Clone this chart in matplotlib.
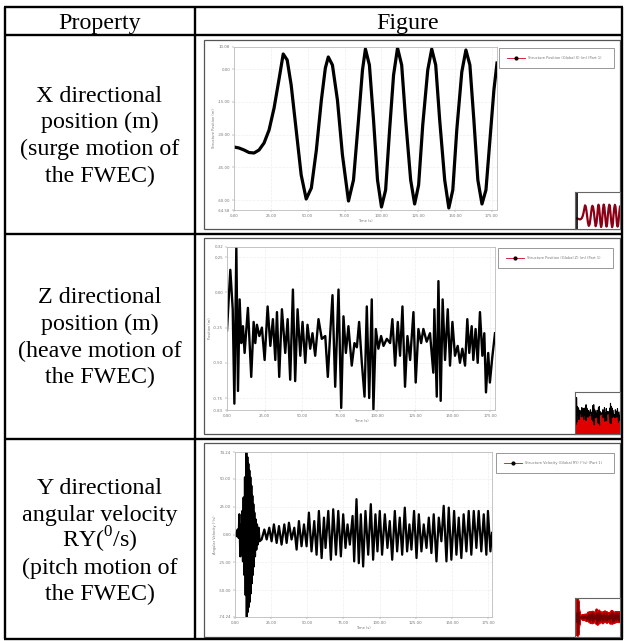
import matplotlib
matplotlib.use("Agg")
import matplotlib.pyplot as plt
from matplotlib.lines import Line2D
from matplotlib.patches import Rectangle

plt.rcParams['mathtext.fontset'] = 'custom'
plt.rcParams['mathtext.rm'] = 'Liberation Serif'

# ---------------- data ----------------
# Row 1: surge (X position)
t1 = [0, 3.4, 6.8, 10.2, 13.6, 17.0, 20.4, 23.8, 27.2, 30.7, 33.4, 36.1, 38.8, 42.2, 45.6,
      49.0, 52.5, 55.9, 59.3, 62.0, 64.0, 66.8, 70.2, 73.6, 77.7, 81.1, 84.5, 87.2, 89.2,
      91.9, 94.7, 97.4, 100.1, 102.9, 105.6, 108.3, 111.0, 113.8, 116.5, 119.9, 122.6,
      125.3, 128.1, 131.5, 134.2, 136.9, 139.6, 143.0, 145.8, 148.5, 151.2, 154.6, 157.4,
      160.1, 162.8, 165.5, 168.3, 171.0, 173.7, 176.4, 178.5]
x_pos = [-35.72, -36.18, -37.10, -38.24, -38.47, -37.10, -33.89, -27.94, -17.86, -4.12,
         6.87, 4.12, -7.33, -27.94, -48.55, -59.54, -54.50, -37.10, -14.20, 0.46,
         5.50, 1.83, -14.20, -39.39, -60.46, -50.84, -23.36, -0.46, 9.16, 1.83,
         -23.36, -50.84, -63.20, -55.42, -27.94, -2.75, 9.62, 1.83, -23.36, -50.84,
         -61.83, -53.13, -25.65, -0.46, 9.16, 1.83, -23.36, -50.84, -63.66, -55.42,
         -27.94, -1.37, 8.70, 1.83, -23.36, -50.84, -61.83, -55.42, -32.52, -9.62, 2.75]

# Row 2: heave (Z position)
t2 = [0.0, 2.2, 3.8, 4.9, 6.2, 7.3, 8.4, 9.5, 10.6, 11.7,
      13.9, 16.1, 17.7, 18.8, 19.9, 21.5, 23.2, 25.0, 27.0, 28.8,
      30.5, 32.1, 33.2, 34.7, 36.5, 38.7, 40.3, 42.0, 43.8, 45.3,
      46.9, 48.7, 50.2, 52.0, 53.5, 55.3, 56.8, 58.6, 60.8, 63.0,
      65.3, 67.0, 68.6, 70.1, 71.9, 74.1, 75.9, 77.4, 79.0, 80.7,
      82.9, 84.7, 86.3, 87.8, 89.6, 91.4, 92.9, 94.5, 96.2, 97.3,
      98.9, 100.6, 102.4, 104.0, 106.2, 108.4, 109.9, 111.7, 113.5, 115.0,
      116.6, 118.3, 119.9, 121.7, 123.9, 125.4, 127.2, 129.0, 130.5, 132.7,
      134.9, 137.1, 137.8, 139.4, 140.5, 142.0, 143.3, 144.9, 146.7, 148.2,
      149.8, 151.5, 153.3, 154.8, 156.4, 158.2, 159.7, 161.0, 162.6, 163.7,
      165.2, 166.6, 168.1, 169.7, 171.0, 172.1, 173.6, 174.7, 176.3, 178.1]
z_pos = [-0.27, 0.16, -0.12, -0.79, 0.32, -0.70, -0.05, -0.36, -0.24, -0.43,
         -0.11, -0.60, -0.21, -0.36, -0.23, -0.31, -0.25, -0.48, -0.10, -0.38,
         -0.19, -0.48, -0.14, -0.60, -0.12, -0.43, -0.19, -0.62, 0.02, -0.63,
         -0.12, -0.45, -0.21, -0.50, -0.23, -0.40, -0.29, -0.45, -0.19, -0.33,
         -0.31, -0.60, -0.29, -0.02, -0.67, 0.02, -0.82, -0.17, -0.43, -0.24,
         -0.52, -0.36, -0.39, -0.21, -0.50, -0.74, -0.10, -0.75, -0.05, -0.83,
         -0.26, -0.40, -0.31, -0.38, -0.33, -0.36, -0.19, -0.52, -0.21, -0.45,
         -0.10, -0.67, -0.31, -0.48, -0.14, -0.64, -0.26, -0.36, -0.26, -0.35,
         -0.29, -0.57, -0.12, -0.74, 0.08, -0.77, -0.05, -0.48, -0.12, -0.52,
         -0.21, -0.45, -0.38, -0.50, -0.40, -0.52, -0.19, -0.43, -0.24, -0.48,
         -0.26, -0.50, -0.14, -0.45, -0.29, -0.71, -0.43, -0.64, -0.46, -0.29]

# Row 3: pitch (RY angular velocity)
t3 = [0, 0.92, 1.84, 2.53, 3.0, 3.68, 4.14, 4.6, 5.06, 5.52, 5.98, 6.45, 6.91, 7.37, 7.83,
      8.17, 8.52, 8.86, 9.21, 9.55, 9.9, 10.24, 10.59, 10.93, 11.28, 11.63, 11.97, 12.32,
      12.66, 13.0, 13.35, 13.81, 14.27, 14.73, 15.19, 15.65, 16.34, 17.03,
      18.4, 20.3, 21.9, 23.7, 25.3, 26.9, 28.8, 30.4, 32.2, 34.1,
      35.7, 37.3, 39.1, 41.0, 42.6, 44.2, 46.0, 47.7, 49.5, 51.1,
      52.9, 54.8, 56.4, 58.0, 59.9, 61.5, 62.6, 64.5, 66.3, 67.9,
      69.8, 71.4, 73.2, 74.8, 76.4, 77.8, 79.4, 81.3, 82.4, 84.0,
      85.6, 87.0, 88.6, 90.2, 92.1, 93.9, 95.5, 97.1, 98.5, 100.1,
      101.7, 103.6, 105.4, 107.0, 108.7, 110.5, 112.1, 113.9, 115.6, 117.4,
      119.0, 120.6, 122.0, 123.8, 125.5, 127.1, 128.9, 130.5, 132.4, 134.0,
      135.8, 137.4, 139.3, 140.9, 142.7, 144.3, 146.2, 147.8, 149.6, 151.5,
      153.1, 154.7, 156.5, 158.1, 160.0, 161.6, 163.4, 165.1, 166.9, 168.5,
      170.3, 172.0, 173.8, 174.9, 176.6, 177.7]
ry_vel = [1.5, -1.5, 4.5, -3.0, 18.2, -19.7, 9.1, -15.2, 21.2, -24.2, 33.3, -36.4, 51.5,
          -54.5, 74.2, -74.2, 69.7, -69.7, 63.6, -65.2, 57.6, -60.6, 51.5, -53.0, 43.9,
          -43.9, 34.8, -36.4, 27.3, -28.8, 19.7, -19.7, 13.6, -13.6, 9.1, -9.1, 6.1, -6.1,
          -4.5, 4.5, -4.5, 6.1, -6.1, 9.1, -7.6, 7.6, -9.1, 9.1,
          -7.6, 10.6, -4.5, 6.1, -13.6, 12.1, -10.6, 9.1, -10.6, 19.7,
          -15.2, 12.1, -18.2, 21.2, -21.2, 15.2, -12.1, 21.2, -22.7, 22.7,
          -18.2, 21.2, -19.7, 18.2, -12.1, 9.1, -9.1, 16.7, -24.2, 31.8,
          -25.8, 18.2, -28.8, 21.2, -18.2, 27.3, -22.7, 18.2, -15.2, 21.2,
          -18.2, 18.2, -12.1, 12.1, -22.7, 21.2, -15.2, 15.2, -18.2, 24.2,
          -15.2, 9.1, -13.6, 21.2, -21.2, 18.2, -15.2, 9.1, -12.1, 15.2,
          -16.7, 18.2, -24.2, 15.2, -6.1, 25.8, -24.2, 24.2, -22.7, 21.2,
          -18.2, 15.2, -21.2, 18.2, -15.2, 21.2, -18.2, 21.2, -12.1, 21.2,
          -15.2, 18.2, -18.2, 21.2, -15.2, 1.5]

x_ticks = [0, 25, 50, 75, 100, 125, 150, 175]
row_specs = [
    dict(t=t1, v=x_pos, ylim=(-64.58, 10.08), yticks=[-60, -45, -30, -15, 0], xmax=178.5,
         ylabel="Structure Position (m)",
         legend="Structure Position (Global X) (m) (Part 1)", lw=2.3),
    dict(t=t2, v=z_pos, ylim=(-0.835, 0.322), yticks=[-0.75, -0.5, -0.25, 0.0, 0.25], xmax=178.1,
         ylabel="Position (m)",
         legend="Structure Position (Global Z) (m) (Part 1)", lw=1.7),
    dict(t=t3, v=ry_vel, ylim=(-74.24, 74.24), yticks=[-50, -25, 0, 25, 50], xmax=177.7,
         ylabel="Angular Velocity (\u00b0/s)",
         legend="Structure Velocity (Global RY) (\u00b0/s) (Part 1)", lw=1.6),
]

# Table text
header = ["Property", "Figure"]
row_labels = [
    ["X directional", "position (m)", "(surge motion of", "the FWEC)"],
    ["Z directional", "position (m)", "(heave motion of", "the FWEC)"],
    ["Y directional", "angular velocity", r"RY($^{\mathrm{0}}$/s)", "(pitch motion of", "the FWEC)"],
]

# ---------------- layout (pixel geometry) ----------------
W, H = 626, 641
fig = plt.figure(figsize=(W / 100, H / 100), dpi=100)

def rect(x0, y0, x1, y1):
    return [x0 / W, 1 - y1 / H, (x1 - x0) / W, (y1 - y0) / H]

bg = fig.add_axes([0, 0, 1, 1])
bg.set_xlim(0, W)
bg.set_ylim(H, 0)
bg.axis('off')

serif = 'Liberation Serif'
FS = 17.3
lw_tab = 1.7
L, R, C = 5, 622, 195
hlines = [6.5, 35, 234, 439, 638.5]
for y in hlines:
    bg.plot([L - 0.8, R + 0.8], [y, y], color='black', lw=lw_tab, solid_capstyle='butt')
for x in [L, C, R]:
    bg.plot([x, x], [hlines[0], hlines[-1]], color='black', lw=lw_tab, solid_capstyle='butt')

bg.text(99.5, 29.3, header[0], family=serif, fontsize=FS, ha='center', va='baseline')
bg.text(408, 29.3, header[1], family=serif, fontsize=FS, ha='center', va='baseline')

baselines = [
    [101.5, 128.2, 154.9, 181.6],
    [303.2, 329.9, 356.6, 383.3],
    [494.5, 521.0, 547.5, 574.0, 600.5],
]
for lines, bls in zip(row_labels, baselines):
    for s, yb in zip(lines, bls):
        bg.text(99.5, yb, s, family=serif, fontsize=FS, ha='center', va='baseline')

frames = [(204, 40, 620, 229), (204, 238, 620, 434), (204, 443, 620, 637)]
plots = [(234, 47, 497, 210), (227, 247, 495, 410), (235, 452, 492, 617)]
legends = [(499, 48, 614, 68), (498, 248, 613, 269), (496, 453, 614, 474)]
insets = [(575, 192, 620, 229), (575, 392, 620, 434), (575, 598, 620, 637)]

for fr in frames:
    bg.add_patch(Rectangle((fr[0], fr[1]), fr[2] - fr[0], fr[3] - fr[1],
                           facecolor='white', edgecolor='#555555', lw=0.9))

tick_col = '#777777'
for i, spec in enumerate(row_specs):
    ax = fig.add_axes(rect(*plots[i]))
    ax.plot(spec['t'], spec['v'], color='black', lw=spec['lw'], solid_joinstyle='round')
    ax.set_xlim(0, spec['xmax'])
    ax.set_ylim(*spec['ylim'])
    yt = [spec['ylim'][0]] + spec['yticks'] + [spec['ylim'][1]]
    ax.set_yticks(yt)
    ax.set_yticklabels([f"{v:.2f}" for v in yt])
    ax.set_xticks(x_ticks)
    ax.set_xticklabels([f"{v:.2f}" for v in x_ticks])
    ax.tick_params(labelsize=2.8, colors=tick_col, length=1.2, width=0.3, pad=1.5)
    ax.set_xlabel("Time (s)", fontsize=2.6, color=tick_col, labelpad=1)
    ax.set_ylabel(spec['ylabel'], fontsize=2.6, color=tick_col, labelpad=1)
    ax.grid(True, color='#eeeeee', lw=0.5, ls='--')
    for sp in ax.spines.values():
        sp.set_color('#bbbbbb')
        sp.set_linewidth(0.6)

    # legend box
    lx0, ly0, lx1, ly1 = legends[i]
    proxy = Line2D([], [], color='#d00020', lw=0.6, marker='o', markersize=2,
                   markerfacecolor='black', markeredgecolor='black')
    ax.legend([proxy], [spec['legend']], loc='upper left',
              bbox_to_anchor=(lx0 / W, 1 - ly1 / H, (lx1 - lx0) / W, (ly1 - ly0) / H),
              bbox_transform=fig.transFigure, mode='expand', fontsize=2.6,
              frameon=True, fancybox=False, edgecolor='#888888', framealpha=1,
              borderpad=2.2, handlelength=5, borderaxespad=0, labelcolor='#777777')
    ax.get_legend().get_frame().set_linewidth(0.6)

    # thumbnail inset
    ins = fig.add_axes(rect(*insets[i]))
    ins.set_xticks([])
    ins.set_yticks([])
    for sp in ins.spines.values():
        sp.set_color('#666666')
        sp.set_linewidth(0.8)
    if i == 0:
        ins.plot(spec['t'], spec['v'], color='#8b0015', lw=1.6)
        ins.set_xlim(-8, spec['xmax'])
        ins.set_ylim(spec['ylim'][0] - 5, spec['ylim'][1] + 40)
        ins.axvline(0, color='black', lw=1.2)
    elif i == 1:
        ins.fill_between(spec['t'], spec['v'], -1.2, color='#e00000', lw=0)
        ins.plot(spec['t'], spec['v'], color='black', lw=0.8)
        ins.set_xlim(0, spec['xmax'])
        ins.set_ylim(-1.2, 0.55)
    else:
        ins.plot(spec['t'], spec['v'], color='#e00000', lw=2.0)
        ins.plot(spec['t'], spec['v'], color='#700000', lw=0.4)
        ins.set_xlim(-3, spec['xmax'])
        ins.set_ylim(-80, 80)

fig.savefig("out.png", dpi=100)
